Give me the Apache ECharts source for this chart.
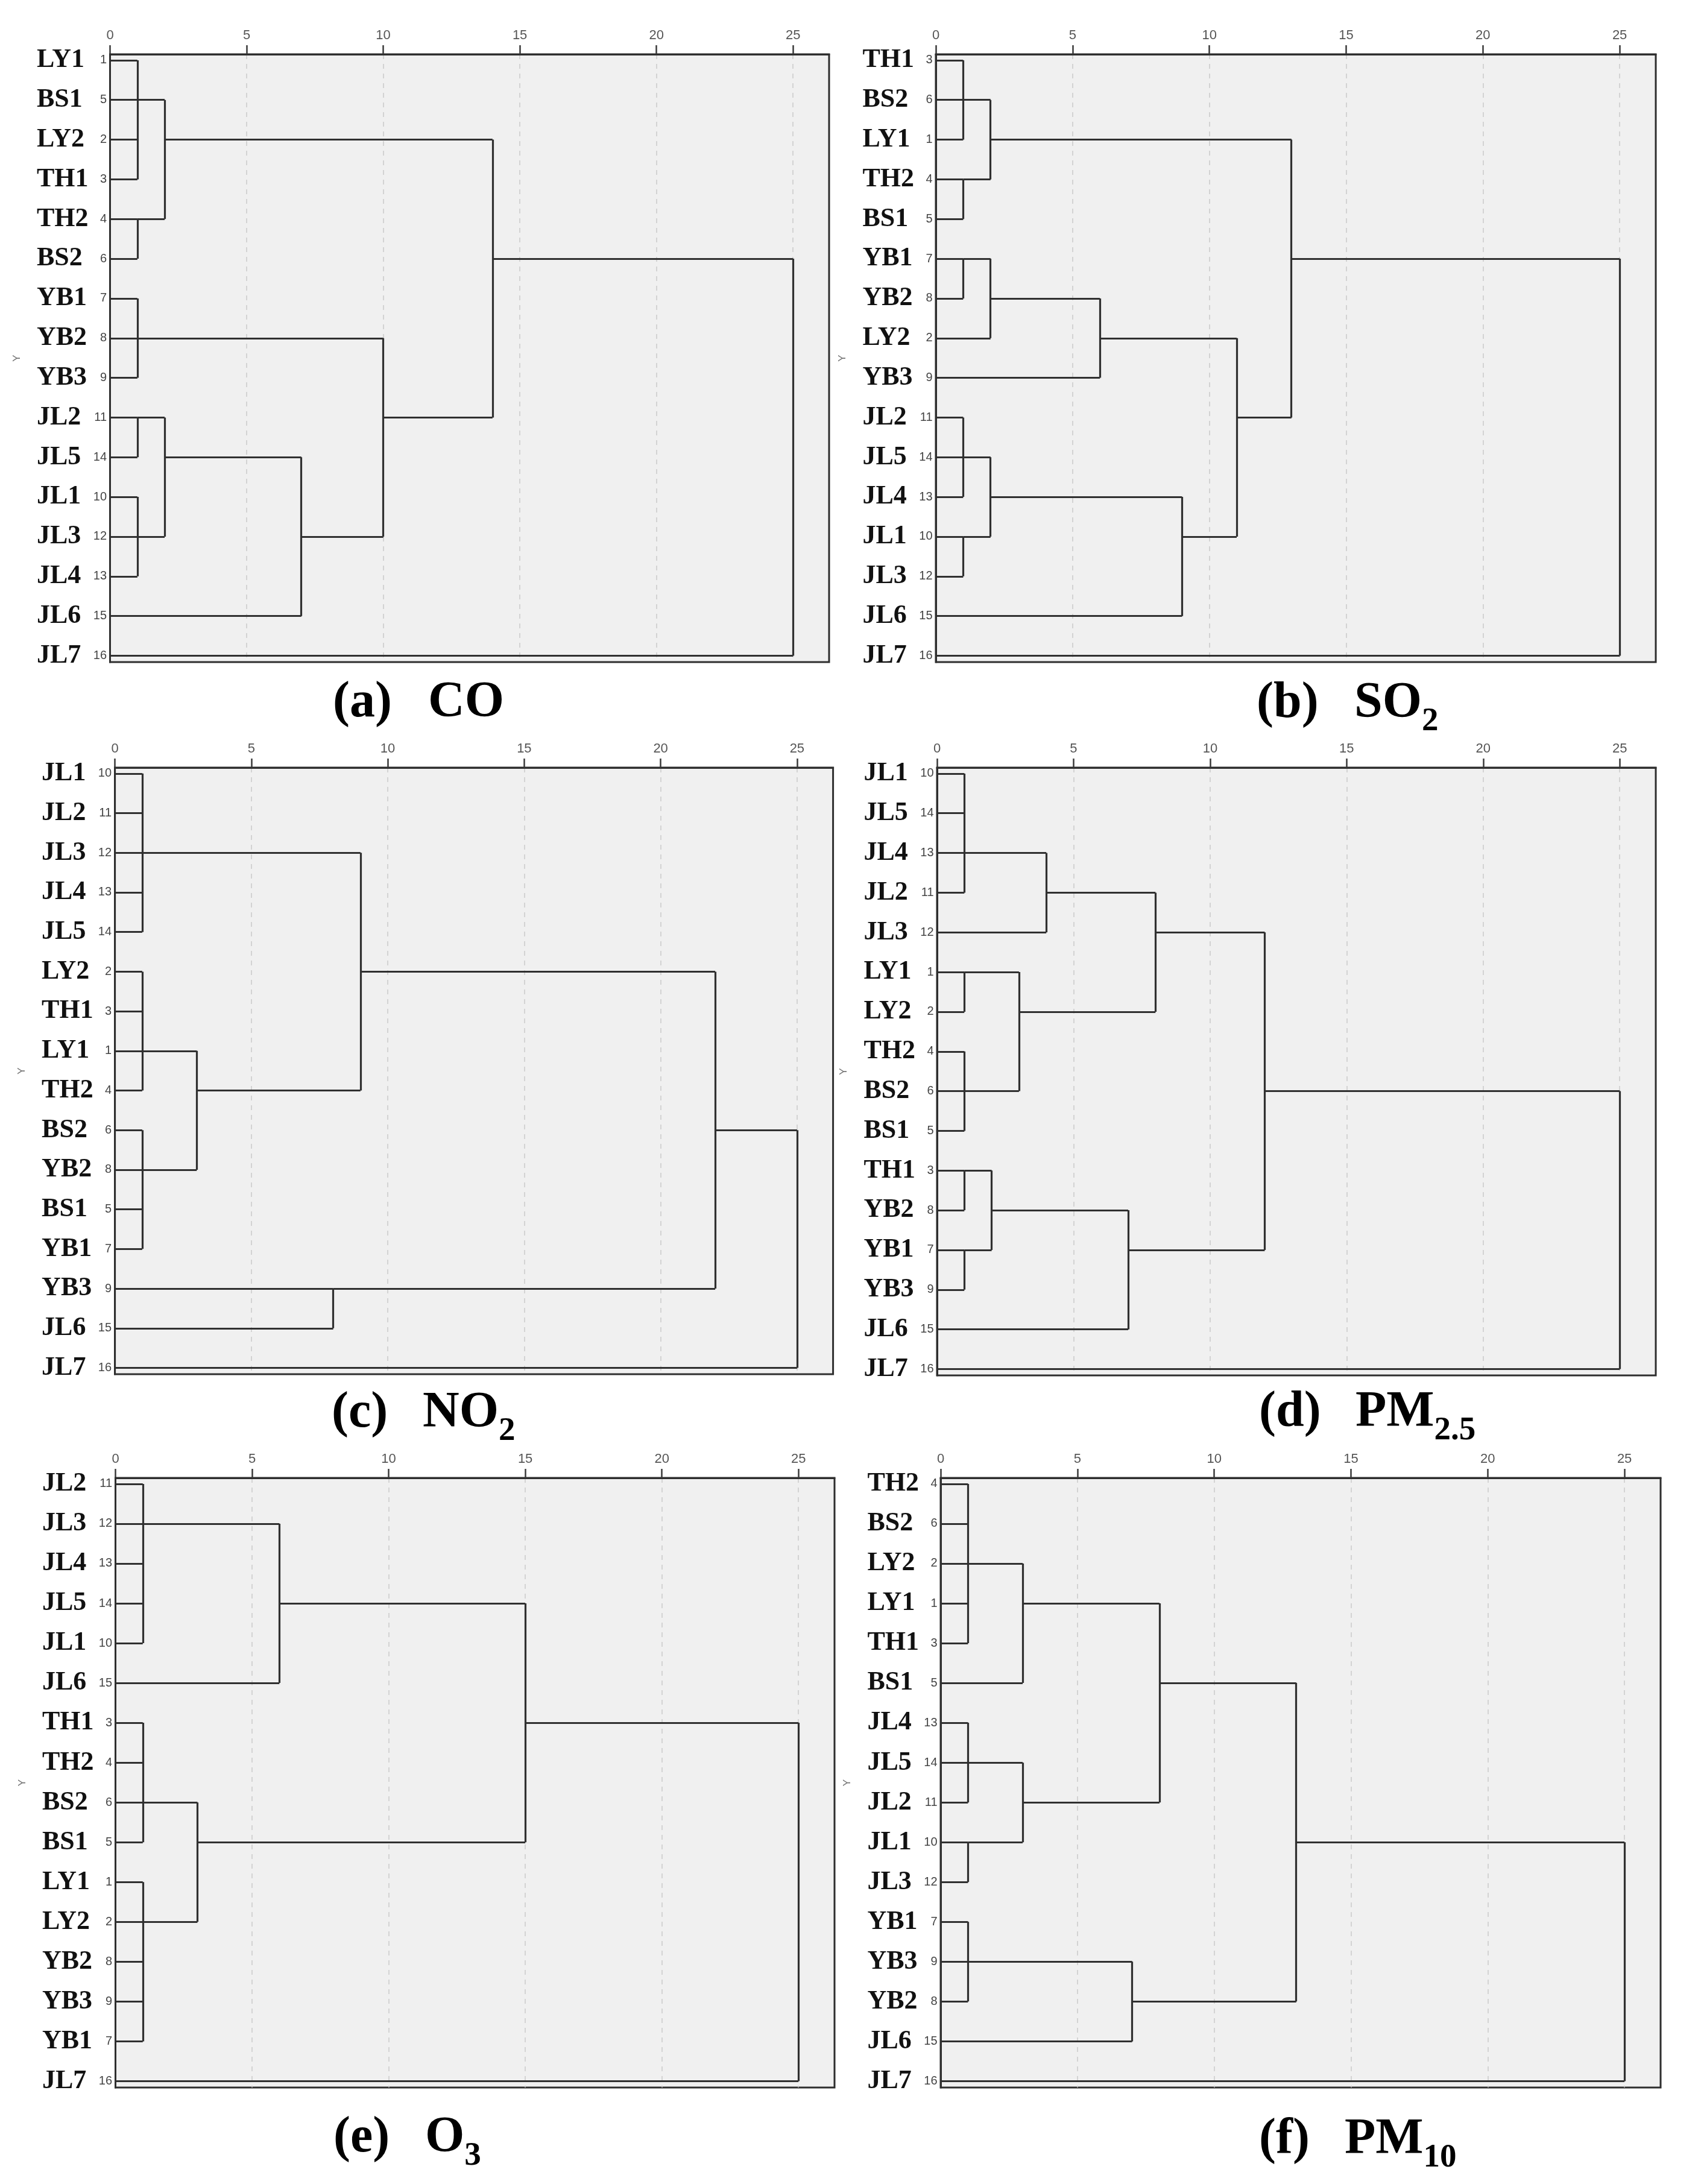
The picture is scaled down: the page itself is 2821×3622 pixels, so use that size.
<!DOCTYPE html>
<html>
<head>
<meta charset="utf-8">
<script src="https://cdn.jsdelivr.net/npm/echarts@6/dist/echarts.min.js"></script>
<style>
html,body{margin:0;padding:0;background:#fff;}
#chart{width:2821px;height:3622px;}
</style>
</head>
<body>
<div id="chart"></div>
<script>
// ---------- data ----------
const xTicks = [0, 5, 10, 15, 20, 25];

// (a) CO
const coLabels = ['LY1','BS1','LY2','TH1','TH2','BS2','YB1','YB2','YB3','JL2','JL5','JL1','JL3','JL4','JL6','JL7'];
const coIds = [1,5,2,3,4,6,7,8,9,11,14,10,12,13,15,16];
// [height, exit-row label, ...children]  (children: leaf label or '#k' = k-th merge)
const coMerges = [
  [1,'BS1','LY1','BS1','LY2','TH1'],
  [1,'TH2','TH2','BS2'],
  [2,'LY2','#0','#1'],
  [1,'YB2','YB1','YB2','YB3'],
  [1,'JL2','JL2','JL5'],
  [1,'JL3','JL1','JL3','JL4'],
  [2,'JL5','#4','#5'],
  [7,'JL3','#6','JL6'],
  [10,'JL2','#3','#7'],
  [14,'BS2','#2','#8'],
  [25,null,'#9','JL7']
];

// (b) SO2
const so2Labels = ['TH1','BS2','LY1','TH2','BS1','YB1','YB2','LY2','YB3','JL2','JL5','JL4','JL1','JL3','JL6','JL7'];
const so2Ids = [3,6,1,4,5,7,8,2,9,11,14,13,10,12,15,16];
const so2Merges = [
  [1,'BS2','TH1','BS2','LY1'],
  [1,'TH2','TH2','BS1'],
  [2,'LY1','#0','#1'],
  [1,'YB1','YB1','YB2'],
  [2,'YB2','#3','LY2'],
  [6,'LY2','#4','YB3'],
  [1,'JL5','JL2','JL5','JL4'],
  [1,'JL1','JL1','JL3'],
  [2,'JL4','#6','#7'],
  [9,'JL1','#8','JL6'],
  [11,'JL2','#5','#9'],
  [13,'YB1','#2','#10'],
  [25,null,'#11','JL7']
];

// (c) NO2
const no2Labels = ['JL1','JL2','JL3','JL4','JL5','LY2','TH1','LY1','TH2','BS2','YB2','BS1','YB1','YB3','JL6','JL7'];
const no2Ids = [10,11,12,13,14,2,3,1,4,6,8,5,7,9,15,16];
const no2Merges = [
  [1,'JL3','JL1','JL2','JL3','JL4','JL5'],
  [1,'LY1','LY2','TH1','LY1','TH2'],
  [1,'YB2','BS2','YB2','BS1','YB1'],
  [3,'TH2','#1','#2'],
  [9,'LY2','#0','#3'],
  [8,'YB3','YB3','JL6'],
  [22,'BS2','#4','#5'],
  [25,null,'#6','JL7']
];

// (d) PM2.5
const pm25Labels = ['JL1','JL5','JL4','JL2','JL3','LY1','LY2','TH2','BS2','BS1','TH1','YB2','YB1','YB3','JL6','JL7'];
const pm25Ids = [10,14,13,11,12,1,2,4,6,5,3,8,7,9,15,16];
const pm25Merges = [
  [1,'JL4','JL1','JL5','JL4','JL2'],
  [4,'JL2','#0','JL3'],
  [1,'LY1','LY1','LY2'],
  [1,'BS2','TH2','BS2','BS1'],
  [3,'LY2','#2','#3'],
  [8,'JL3','#1','#4'],
  [1,'TH1','TH1','YB2'],
  [1,'YB1','YB1','YB3'],
  [2,'YB2','#6','#7'],
  [7,'YB1','#8','JL6'],
  [12,'BS2','#5','#9'],
  [25,null,'#10','JL7']
];

// (e) O3
const o3Labels = ['JL2','JL3','JL4','JL5','JL1','JL6','TH1','TH2','BS2','BS1','LY1','LY2','YB2','YB3','YB1','JL7'];
const o3Ids = [11,12,13,14,10,15,3,4,6,5,1,2,8,9,7,16];
const o3Merges = [
  [1,'JL3','JL2','JL3','JL4','JL5','JL1'],
  [6,'JL5','#0','JL6'],
  [1,'BS2','TH1','TH2','BS2','BS1'],
  [1,'LY2','LY1','LY2','YB2','YB3','YB1'],
  [3,'BS1','#2','#3'],
  [15,'TH1','#1','#4'],
  [25,null,'#5','JL7']
];

// (f) PM10
const pm10Labels = ['TH2','BS2','LY2','LY1','TH1','BS1','JL4','JL5','JL2','JL1','JL3','YB1','YB3','YB2','JL6','JL7'];
const pm10Ids = [4,6,2,1,3,5,13,14,11,10,12,7,9,8,15,16];
const pm10Merges = [
  [1,'LY2','TH2','BS2','LY2','LY1','TH1'],
  [3,'LY1','#0','BS1'],
  [1,'JL5','JL4','JL5','JL2'],
  [1,'JL1','JL1','JL3'],
  [3,'JL2','#2','#3'],
  [8,'BS1','#1','#4'],
  [1,'YB3','YB1','YB3','YB2'],
  [7,'YB2','#6','JL6'],
  [13,'JL1','#5','#7'],
  [25,null,'#8','JL7']
];

const titleTags = ['(a)','(b)','(c)','(d)','(e)','(f)'];
const titleMain = ['CO','SO','NO','PM','O','PM'];
const titleSub  = ['','2','2','2.5','3','10'];

// ---------- layout ----------
const panels = [
  {labels: coLabels,   ids: coIds,   merges: coMerges,   g: [182.5, 90, 1192.5, 1008], t: [552, 710, 1195]},
  {labels: so2Labels,  ids: so2Ids,  merges: so2Merges,  g: [1552, 90, 1194, 1008],    t: [2084, 2246, 1196]},
  {labels: no2Labels,  ids: no2Ids,  merges: no2Merges,  g: [190.6, 1273, 1191, 1006], t: [550, 701, 2373]},
  {labels: pm25Labels, ids: pm25Ids, merges: pm25Merges, g: [1554, 1273, 1192, 1008],  t: [2088, 2248, 2372]},
  {labels: o3Labels,   ids: o3Ids,   merges: o3Merges,   g: [191.5, 2451, 1192.5, 1011], t: [553, 705, 3575]},
  {labels: pm10Labels, ids: pm10Ids, merges: pm10Merges, g: [1560, 2451, 1194, 1011],  t: [2088, 2230, 3578]}
];

function buildSegments(labels, merges) {
  const rowOf = {};
  labels.forEach((l, i) => { rowOf[l] = i; });
  const nodes = [];
  const segs = [];
  merges.forEach(m => {
    const h = m[0], exit = m[1], children = m.slice(2);
    const rows = [];
    children.forEach(c => {
      let r, s;
      if (c.charAt(0) === '#') { const n = nodes[+c.slice(1)]; r = n.row; s = n.h; }
      else { r = rowOf[c]; s = 0; }
      segs.push({coords: [[s, r], [h, r]]});
      rows.push(r);
    });
    segs.push({coords: [[h, Math.min.apply(null, rows)], [h, Math.max.apply(null, rows)]]});
    nodes.push({h: h, row: exit == null ? null : rowOf[exit]});
  });
  return segs;
}

const X_MAX = 26.32, Y_MIN = -0.15, Y_MAX = 15.16;
const grids = [], xAxes = [], yAxes = [], series = [], graphics = [];

const measureCanvas = document.createElement('canvas').getContext('2d');
function textW(txt, font) { measureCanvas.font = font; return measureCanvas.measureText(txt).width; }

panels.forEach((p, k) => {
  grids.push({
    left: p.g[0], top: p.g[1], width: p.g[2], height: p.g[3],
    show: true, backgroundColor: '#f0f0f0', borderColor: '#2e2e2e', borderWidth: 3,
    containLabel: false, outerBoundsMode: 'none'
  });
  xAxes.push({
    type: 'value', gridIndex: k, position: 'top', min: 0, max: X_MAX, interval: 5,
    axisLine: {show: true, onZero: false, lineStyle: {color: '#2e2e2e', width: 3}},
    axisTick: {show: true, inside: false, length: 15, customValues: xTicks, lineStyle: {color: '#3a3a3a', width: 2.5}},
    axisLabel: {show: true, margin: 20, customValues: xTicks, color: '#555', fontSize: 22, fontFamily: 'Liberation Sans',
      formatter: v => (xTicks.indexOf(v) >= 0 ? String(v) : '')},
    splitLine: {show: true, lineStyle: {color: '#c9c9c9', width: 1.5, type: [8, 8]}}
  });
  yAxes.push({
    type: 'value', gridIndex: k, inverse: true, min: Y_MIN, max: Y_MAX, z: 5,
    position: 'left',
    axisLine: {show: true, onZero: false, lineStyle: {color: '#2e2e2e', width: 3}},
    axisTick: {show: false}, axisLabel: {show: false}, splitLine: {show: false},
    name: 'Y', nameLocation: 'middle', nameGap: 146, nameRotate: 90,
    nameTextStyle: {color: '#777', fontSize: 17, fontFamily: 'Liberation Sans'}
  });
  series.push({
    type: 'lines', coordinateSystem: 'cartesian2d', xAxisIndex: k, yAxisIndex: k,
    data: buildSegments(p.labels, p.merges), silent: true, animation: false, z: 3,
    lineStyle: {color: '#303030', width: 3.2, opacity: 1}
  });
  series.push({
    type: 'scatter', xAxisIndex: k, yAxisIndex: k, clip: false, silent: true, animation: false,
    symbol: 'circle', symbolSize: 1, itemStyle: {color: 'rgba(0,0,0,0)'},
    data: p.labels.map((l, i) => [0, i, l, p.ids[i]]),
    label: {
      show: true, position: 'left', distance: 5, offset: [0, 3], opacity: 1,
      formatter: d => '{n|' + d.data[2] + '}{i|' + d.data[3] + '}',
      rich: {
        n: {fontFamily: 'Liberation Serif', fontWeight: 'bold', fontSize: 44, color: '#111', width: 90, align: 'left', verticalAlign: 'middle', lineHeight: 46},
        i: {fontFamily: 'Liberation Sans', fontSize: 20, color: '#444', width: 26, align: 'right', verticalAlign: 'middle', lineHeight: 46}
      }
    },
    labelLayout: {hideOverlap: false}
  });
  // titles
  const mainFont = 'bold 84px "Liberation Serif"';
  const base = p.t[2];
  graphics.push({type: 'text', x: p.t[0], y: base - 28.4, silent: true,
    style: {text: titleTags[k], fill: '#000', font: mainFont, align: 'left', verticalAlign: 'middle'}});
  graphics.push({type: 'text', x: p.t[1], y: base - 28.4, silent: true,
    style: {text: titleMain[k], fill: '#000', font: mainFont, align: 'left', verticalAlign: 'middle'}});
  if (titleSub[k]) {
    const sx = p.t[1] + textW(titleMain[k], mainFont);
    graphics.push({type: 'text', x: sx, y: base + 19 - 18.6, silent: true,
      style: {text: titleSub[k], fill: '#000', font: 'bold 55px "Liberation Serif"', align: 'left', verticalAlign: 'middle'}});
  }
});

const chart = echarts.init(document.getElementById('chart'), null, {renderer: 'canvas'});
chart.setOption({
  backgroundColor: '#ffffff',
  animation: false,
  grid: grids,
  xAxis: xAxes,
  yAxis: yAxes,
  series: series,
  graphic: graphics
});
</script>
</body>
</html>
